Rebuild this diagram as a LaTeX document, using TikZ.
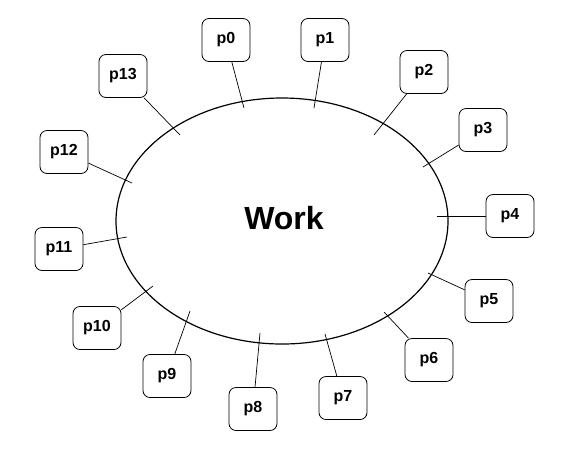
\documentclass[tikz,border=0pt]{standalone}
\usepackage{fontspec}
\setmainfont{Liberation Sans}
\usetikzlibrary{shapes.geometric}

\begin{document}
\begin{tikzpicture}[x=1pt, y=-1pt,
    pbox/.style={draw, line width=0.8pt, rounded corners=7pt, minimum width=48pt, minimum height=43pt,
      inner sep=0pt, fill=white, font=\fontsize{16}{18}\selectfont\bfseries},
    link/.style={draw, line width=0.7pt}]
    \useasboundingbox (0,0) rectangle (561,451);
    \node[draw, ellipse, line width=1.2pt, minimum width=332pt, minimum height=246pt] (work) at (282,221) {};
    \node[font=\fontsize{32}{36}\selectfont\bfseries] (worktext) at (284,218) {Work};
    % inner ends of the connectors
    \foreach \n/\ex/\ey in {0/244/108, 1/314/108, 2/374/135, 3/423/167, 4/437/216,
        5/428/273, 6/384/312, 7/325/334, 8/260/333, 9/190/311, 10/153/286,
        11/127/237, 12/132/183, 13/180/135}
        \coordinate (e\n) at (\ex,\ey);
    \foreach \n/\px/\py in {0/226/40, 1/325/40, 2/424/72, 3/483/130, 4/510/216,
        5/489/301, 6/429/360, 7/343/398, 8/253/409, 9/167/376, 10/97/328,
        11/59/249, 12/64/152, 13/123/76}
    {
        \node[pbox] (p\n) at (\px,\py) {p\n};
        \draw[link] (p\n) -- (e\n);
    }
\end{tikzpicture}
\end{document}
